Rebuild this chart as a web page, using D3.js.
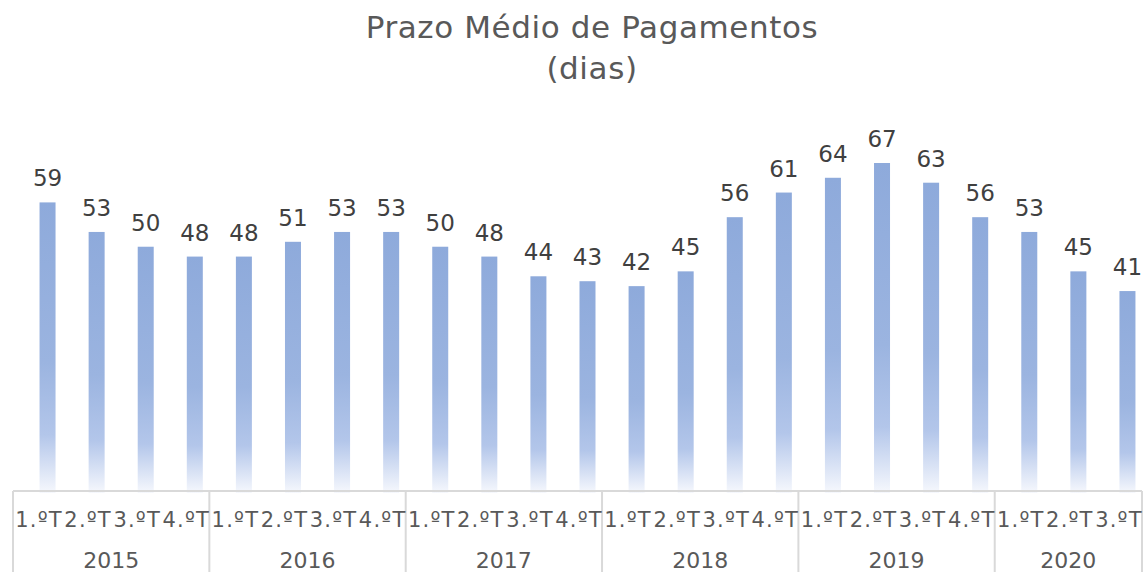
<!DOCTYPE html>
<html>
<head>
<meta charset="utf-8">
<script src="https://cdn.jsdelivr.net/npm/d3@7"></script>
<style>
  body { margin: 0; background: #fff; }
  text { font-family: "DejaVu Sans", Verdana, sans-serif; }
</style>
</head>
<body>
<div id="chart"></div>
<script>
// chart data
const years = ["2015", "2016", "2017", "2018", "2019", "2020"];
const quarters = ["1.ºT", "2.ºT", "3.ºT", "4.ºT"];
const values = [59, 53, 50, 48, 48, 51, 53, 53, 50, 48, 44, 43, 42, 45, 56, 61, 64, 67, 63, 56, 53, 45, 41];
const titleLines = ["Prazo Médio de Pagamentos", "(dias)"];

const width = 1144, height = 572;

// one entry per bar: year + quarter
let cats = [];
years.forEach(y => quarters.forEach(q => cats.push({year: y, quarter: q})));
cats = cats.slice(0, values.length);
cats.forEach((c, i) => { c.key = i; c.value = values[i]; });

const svg = d3.select("#chart").append("svg")
    .attr("width", width)
    .attr("height", height);

// gradient fill for the bars, fading to white at the bottom
let grad = svg.append("defs").append("linearGradient")
    .attr("id", "barFill")
    .attr("x1", 0).attr("y1", 0).attr("x2", 0).attr("y2", 1);
grad.append("stop").attr("offset", "0%").attr("stop-color", "#8eaadb");
grad.append("stop").attr("offset", "55%").attr("stop-color", "#9bb4e0");
grad.append("stop").attr("offset", "80%").attr("stop-color", "#b3c6ea");
grad.append("stop").attr("offset", "100%").attr("stop-color", "#f6f8fd");

let x = d3.scaleBand()
    .domain(cats.map(d => d.key))
    .range([13, 1142])
    .padding(0);

let y = d3.scaleLinear()
    .domain([0, 67])
    .range([493, 163]);

const barW = 16, barShift = 10;

// bars
svg.selectAll("rect.bar").data(cats)
    .enter().append("rect")
    .attr("class", "bar")
    .attr("x", d => x(d.key) + x.bandwidth() / 2 + barShift - barW / 2)
    .attr("y", d => y(d.value))
    .attr("width", barW)
    .attr("height", d => y(0) - y(d.value))
    .attr("fill", "url(#barFill)");

// value labels
svg.selectAll("text.val").data(cats)
    .enter().append("text")
    .attr("class", "val")
    .attr("x", d => x(d.key) + x.bandwidth() / 2 + barShift)
    .attr("y", d => y(d.value) - 16)
    .attr("text-anchor", "middle")
    .attr("fill", "#404040")
    .style("font-size", "23px")
    .text(d => d.value);

// axis box
let axisG = svg.append("g").attr("stroke", "#d9d9d9").attr("stroke-width", 2);
axisG.append("line")
    .attr("x1", x.range()[0]).attr("x2", x.range()[1])
    .attr("y1", 491).attr("y2", 491);

// group boundaries (first bar of each year + end)
let bounds = cats.filter(d => d.quarter === quarters[0]).map(d => x(d.key));
bounds.push(x.range()[1]);
axisG.selectAll("line.sep").data(bounds)
    .enter().append("line")
    .attr("class", "sep")
    .attr("x1", d => d).attr("x2", d => d)
    .attr("y1", 491).attr("y2", height);

// quarter labels
svg.selectAll("text.q").data(cats)
    .enter().append("text")
    .attr("class", "q")
    .attr("x", d => x(d.key) + x.bandwidth() / 2 + 1.5)
    .attr("y", 527)
    .attr("text-anchor", "middle")
    .attr("fill", "#595959")
    .style("font-size", "21px")
    .style("letter-spacing", "1.2px")
    .text(d => d.quarter);

// year labels
let yearData = years.map(yr => {
    let items = cats.filter(d => d.year === yr);
    let x0 = x(items[0].key), x1 = x(items[items.length - 1].key) + x.bandwidth();
    return {year: yr, cx: (x0 + x1) / 2};
});
svg.selectAll("text.yr").data(yearData)
    .enter().append("text")
    .attr("class", "yr")
    .attr("x", d => d.cx)
    .attr("y", 568)
    .attr("text-anchor", "middle")
    .attr("fill", "#595959")
    .style("font-size", "22px")
    .text(d => d.year);

// title
svg.selectAll("text.title").data(titleLines)
    .enter().append("text")
    .attr("class", "title")
    .attr("x", 592)
    .attr("y", (d, i) => 38 + i * 41)
    .attr("text-anchor", "middle")
    .attr("fill", "#595959")
    .style("font-size", "31px")
    .style("letter-spacing", "0.6px")
    .text(d => d);
</script>
</body>
</html>
